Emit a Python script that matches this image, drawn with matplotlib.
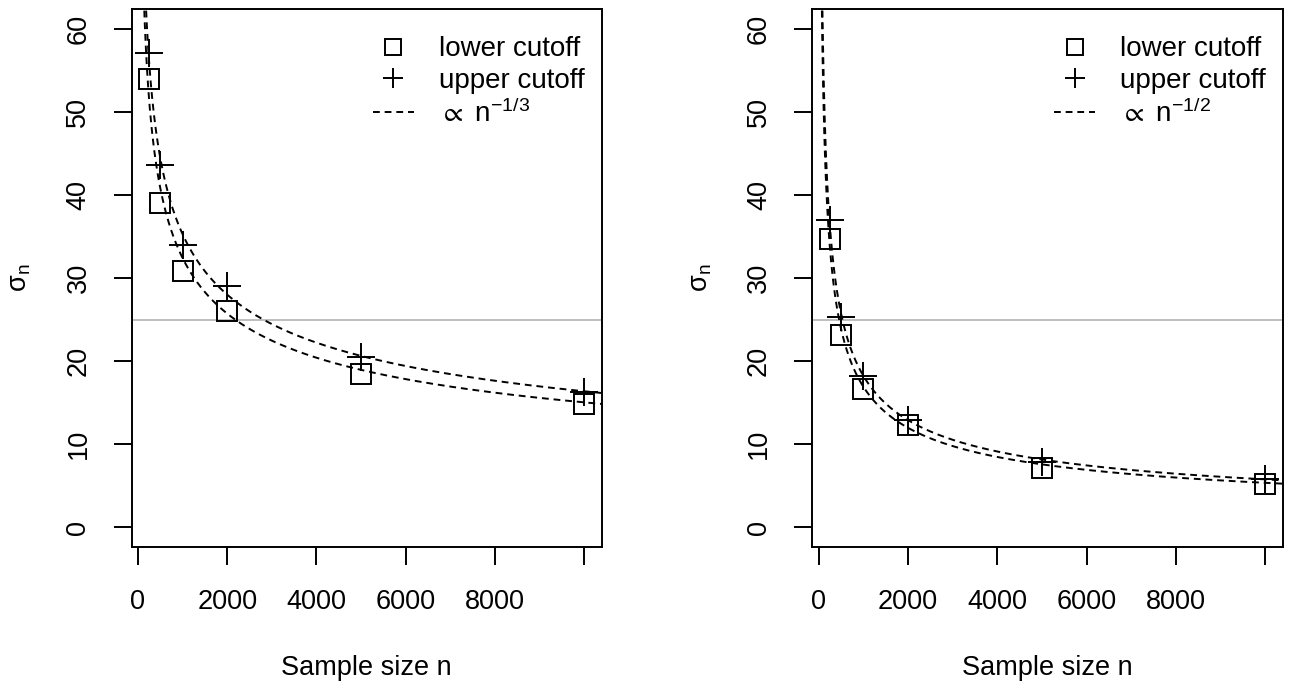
import numpy as np
import matplotlib
matplotlib.use('Agg')
import matplotlib.pyplot as plt
from matplotlib.lines import Line2D

plt.rcParams['font.family'] = ['Liberation Sans', 'DejaVu Sans']
plt.rcParams['mathtext.fontset'] = 'custom'
plt.rcParams['mathtext.rm'] = 'Liberation Sans'
plt.rcParams['mathtext.it'] = 'Liberation Sans:italic'
plt.rcParams['mathtext.fallback'] = 'stixsans'

# data
sample_sizes = [250, 500, 1000, 2000, 5000, 10000]
left_lower = [54.0, 39.0, 30.8, 26.1, 18.5, 14.8]
left_upper = [57.1, 43.6, 34.0, 29.0, 20.5, 16.3]
right_lower = [34.7, 23.1, 16.6, 12.3, 7.2, 5.2]
right_upper = [37.0, 25.3, 18.2, 12.9, 7.9, 5.8]
left_power = -1 / 3
right_power = -1 / 2
left_legend = r'$\propto\ \mathrm{n}^{-1/3}$'
right_legend = r'$\propto\ \mathrm{n}^{-1/2}$'
x_ticks = [0, 2000, 4000, 6000, 8000, 10000]
x_tick_labels = ['0', '2000', '4000', '6000', '8000', '']
y_ticks = [0, 10, 20, 30, 40, 50, 60]
ref_level = 25

FS = 19.5
LEG_FS = 20
LW = 1.4
DASH = (3.5, 2.5)


def fit_coef(n, y, p):
    """least squares coefficient for y = c * n^p"""
    f = np.asarray(n, float) ** p
    y = np.asarray(y, float)
    return np.sum(f * y) / np.sum(f * f)


def draw_panel(ax, lower, upper, power, legend_label):
    ax.set_xlim(-140, 10390)
    ax.set_ylim(-2.4, 62.4)
    ax.axhline(ref_level, color='#bebebe', lw=LW, zorder=1)

    ax.plot(sample_sizes, lower, linestyle='none', marker='s', ms=14.4,
            mfc='none', mec='black', mew=LW, zorder=3)
    ax.plot(sample_sizes, upper, linestyle='none', marker='+', ms=20,
            mec='black', mew=LW, zorder=3)

    grid = np.linspace(1, 10390, 3000)
    for series in (lower, upper):
        c = fit_coef(sample_sizes, series, power)
        ax.plot(grid, c * grid ** power, color='black', lw=LW,
                linestyle=(0, DASH), zorder=4)

    ax.set_xticks(x_ticks)
    ax.set_xticklabels(x_tick_labels)
    ax.set_yticks(y_ticks)
    ax.set_yticklabels([str(v) for v in y_ticks], rotation=90, va='center')
    ax.tick_params(axis='both', length=13, width=LW, labelsize=FS,
                   direction='out', color='black')
    ax.tick_params(axis='x', pad=17)
    ax.tick_params(axis='y', pad=16)
    for s in ax.spines.values():
        s.set_linewidth(LW)

    ax.set_xlabel('Sample size n', fontsize=FS, labelpad=29)
    ax.set_ylabel(r'$\mathrm{\sigma}_\mathrm{n}$', fontsize=FS, labelpad=23)

    handles = [
        Line2D([], [], linestyle='none', marker='s', ms=11.5, mfc='none',
               mec='black', mew=LW),
        Line2D([], [], linestyle='none', marker='+', ms=14, mec='black',
               mew=LW),
        Line2D([], [], color='black', lw=LW, linestyle=(0, DASH)),
    ]
    ax.legend(handles, ['lower cutoff', 'upper cutoff', legend_label],
              loc='upper right', bbox_to_anchor=(1.0, 0.98), frameon=False,
              fontsize=LEG_FS, handlelength=1.5, handletextpad=0.9,
              labelspacing=0.2, borderaxespad=0.2)


fig = plt.figure(figsize=(12.9, 6.9), dpi=100)
ax_l = fig.add_axes([0.1021, 0.2068, 0.3643, 0.7802])
ax_r = fig.add_axes([0.6297, 0.2068, 0.3647, 0.7802])

draw_panel(ax_l, left_lower, left_upper, left_power, left_legend)
draw_panel(ax_r, right_lower, right_upper, right_power, right_legend)

fig.savefig('out.png', dpi=100)
plt.close(fig)
